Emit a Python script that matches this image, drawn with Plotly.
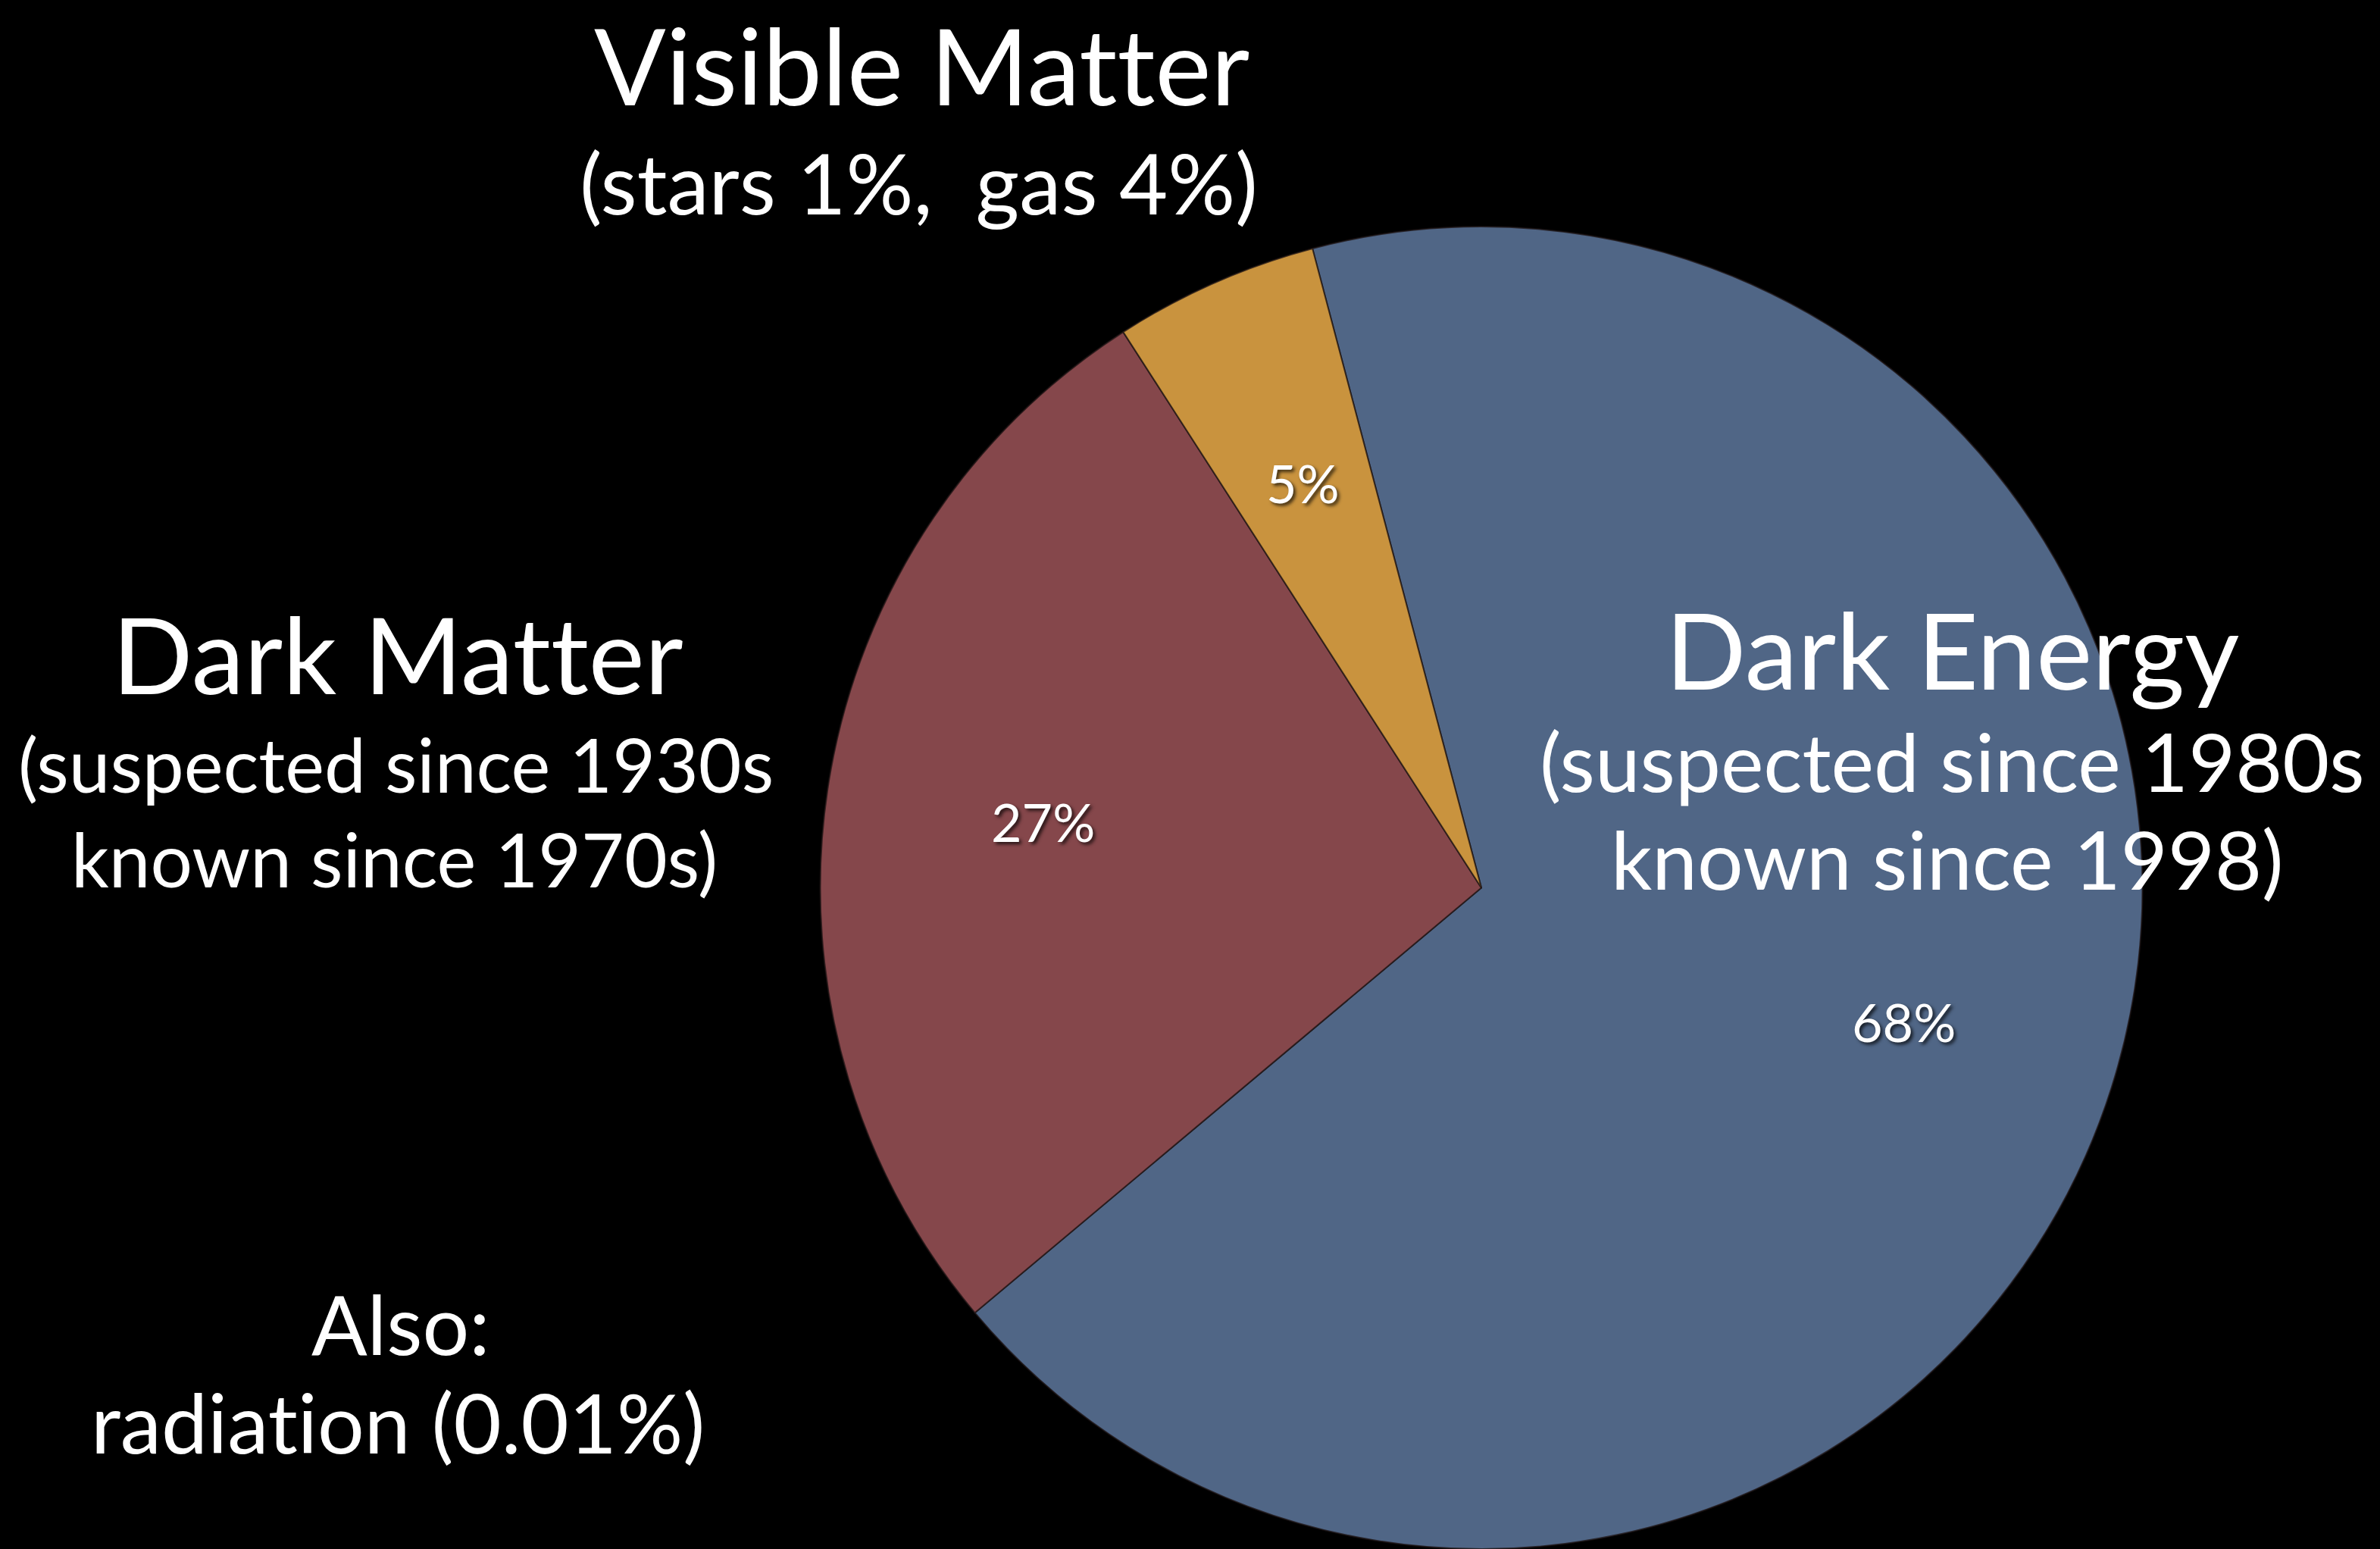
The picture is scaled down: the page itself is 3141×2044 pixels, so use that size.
import math
import plotly.graph_objects as go

# ---- data ----
labels = ["Dark Energy", "Dark Matter", "Visible Matter"]
values = [68, 27, 5]
slice_colors = ["#506686", "#85474b", "#c9933e"]

ZW = "\u200c"  # zero-width non-joiner: keeps Lato from drawing "tt"/"ti" ligatures
headings = ["Visible Mat" + ZW + "ter", "Dark Mat" + ZW + "ter", "Dark Energy", "Also:"]
subtitles = [
    ["(stars 1%,\u00a0 gas 4%)"],
    ["(suspected since 1930s", "known since 1970s)"],
    ["(suspected since 1980s", "known since 1998)"],
    ["radiat" + ZW + "ion (0.01%)"],
]

# ---- layout constants ----
W, H = 3141, 2044
FONT = "Lato, 'Open Sans', sans-serif"
rotation = -14.8
dom_x = [1082.5 / W, 2827.5 / W]
dom_y = [0.0, 1745.0 / H]

fig = go.Figure()
fig.add_trace(go.Pie(
    labels=labels,
    values=values,
    sort=False,
    direction="clockwise",
    rotation=rotation,
    marker=dict(colors=slice_colors, line=dict(color="rgba(30,20,20,0.75)", width=2)),
    textinfo="none",
    hoverinfo="skip",
    showlegend=False,
    domain=dict(x=dom_x, y=dom_y),
))

# percent labels positioned from the data (mid-angle of each slice)
cx = (dom_x[0] + dom_x[1]) / 2 * W
cy = H - (dom_y[0] + dom_y[1]) / 2 * H
r = min((dom_x[1] - dom_x[0]) * W, (dom_y[1] - dom_y[0]) * H) / 2
total = sum(values)
ang = rotation
annotations = []
for v in values:
    mid = math.radians(ang + 360 * v / total / 2)
    ang += 360 * v / total
    px = cx + 0.67 * r * math.sin(mid)
    py = cy - 0.67 * r * math.cos(mid)
    annotations.append(dict(
        x=px / W, y=1 - py / H, xref="paper", yref="paper",
        text=f"{round(100 * v / total)}%", showarrow=False,
        xanchor="center", yanchor="middle",
        font=dict(family=FONT, size=70, color="white",
                  shadow="3px 3px 4px rgba(0,0,0,0.7)"),
    ))

# text blocks: (x, y) centre in pixels from top-left
blocks = [
    ((1216, 85), (1212, 240)),
    ((525, 862), (522, 1008), (520, 1133)),
    ((2576, 856), (2576, 1003), (2570, 1132)),
    ((529, 1745), (525, 1875)),
]
head_sizes = [140, 140, 140, 109]
sub_sizes = [111, 98, 107, 109]
for i, head in enumerate(headings):
    pos = blocks[i]
    lines = [(head, head_sizes[i])] + [(s, sub_sizes[i]) for s in subtitles[i]]
    for (txt, size), (x, y) in zip(lines, pos):
        annotations.append(dict(
            x=x / W, y=1 - y / H, xref="paper", yref="paper",
            text=txt, showarrow=False, xanchor="center", yanchor="middle",
            font=dict(family=FONT, size=size, color="white"),
        ))

fig.update_layout(
    width=W, height=H,
    margin=dict(l=0, r=0, t=0, b=0),
    paper_bgcolor="black",
    plot_bgcolor="black",
    annotations=annotations,
)

fig.write_html("out.html")
